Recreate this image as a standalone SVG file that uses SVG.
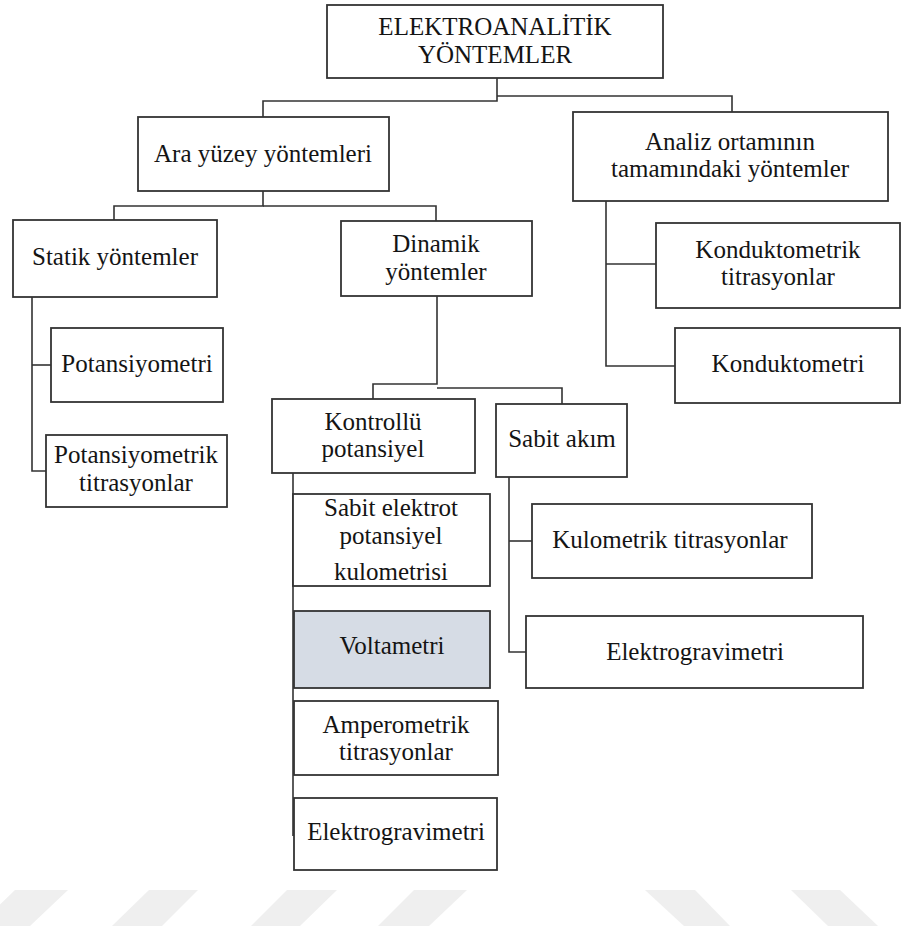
<svg xmlns="http://www.w3.org/2000/svg" width="915" height="936" viewBox="0 0 915 936">
<style>
.box{fill:#ffffff;stroke:#333333;stroke-width:1.8}
.hl{fill:#d6dce5}
.t{font-size:25px;fill:#141414;text-anchor:middle}
.c{fill:none;stroke:#333333;stroke-width:1.6}
.wm{fill:#efefef}
</style>
<rect width="915" height="936" fill="#ffffff"/>
<g id="watermark">
<polygon class="wm" points="15,890 68,890 30,926 -22,926"/>
<polygon class="wm" points="149,890 198,890 162,926 112,926"/>
<polygon class="wm" points="287,890 337,890 300,926 251,926"/>
<polygon class="wm" points="414,890 467,890 429,926 378,926"/>
<polygon class="wm" points="645,890 695,890 730,926 684,926"/>
<polygon class="wm" points="791,890 840,890 878,926 828,926"/>
</g>
<g id="connectors">
<path class="c" d="M497,78 V101 H263 V117"/>
<path class="c" d="M497,96 H732 V112"/>
<path class="c" d="M263,191 V206 H114 V220"/>
<path class="c" d="M263,206 H436 V221"/>
<path class="c" d="M32,297 V471 H46"/>
<path class="c" d="M32,365 H51"/>
<path class="c" d="M437,296 V384 H373 V399"/>
<path class="c" d="M437,388 H562 V404"/>
<path class="c" d="M293,473 V836"/>
<path class="c" d="M509,477 V652 H526"/>
<path class="c" d="M509,541 H532"/>
<path class="c" d="M606,201 V366 H675"/>
<path class="c" d="M606,264 H656"/>
</g>
<g id="nodes" font-family="Liberation Serif, Times New Roman, Tinos, serif">
<g id="n-root">
<rect class="box" x="327" y="5" width="336" height="73"/>
<text class="t" x="495" y="35">ELEKTROANALİTİK</text>
<text class="t" x="495" y="63">YÖNTEMLER</text>
</g>
<g id="n-arayuzey">
<rect class="box" x="138" y="117" width="251" height="74"/>
<text class="t" x="263" y="162">Ara yüzey yöntemleri</text>
</g>
<g id="n-analiz">
<rect class="box" x="573" y="112" width="315" height="89"/>
<text class="t" x="730" y="150">Analiz ortamının</text>
<text class="t" x="730" y="177">tamamındaki yöntemler</text>
</g>
<g id="n-statik">
<rect class="box" x="13" y="220" width="204" height="77"/>
<text class="t" x="115" y="265">Statik yöntemler</text>
</g>
<g id="n-dinamik">
<rect class="box" x="341" y="221" width="191" height="75"/>
<text class="t" x="436" y="252">Dinamik</text>
<text class="t" x="436" y="280">yöntemler</text>
</g>
<g id="n-kondtitr">
<rect class="box" x="656" y="223" width="244" height="85"/>
<text class="t" x="778" y="258">Konduktometrik</text>
<text class="t" x="778" y="285">titrasyonlar</text>
</g>
<g id="n-kond">
<rect class="box" x="675" y="328" width="225" height="75"/>
<text class="t" x="788" y="372">Konduktometri</text>
</g>
<g id="n-potans">
<rect class="box" x="51" y="328" width="172" height="74"/>
<text class="t" x="137" y="372">Potansiyometri</text>
</g>
<g id="n-potanstitr">
<rect class="box" x="46" y="435" width="181" height="72"/>
<text class="t" x="136" y="463">Potansiyometrik</text>
<text class="t" x="136" y="491">titrasyonlar</text>
</g>
<g id="n-kontrollu">
<rect class="box" x="272" y="399" width="203" height="74"/>
<text class="t" x="373" y="430">Kontrollü</text>
<text class="t" x="373" y="457">potansiyel</text>
</g>
<g id="n-sabitakim">
<rect class="box" x="496" y="404" width="131" height="73"/>
<text class="t" x="562" y="447">Sabit akım</text>
</g>
<g id="n-sabitelektrot">
<rect class="box" x="293" y="494" width="197" height="92"/>
<text class="t" x="391" y="516">Sabit elektrot</text>
<text class="t" x="391" y="544">potansiyel</text>
<text class="t" x="391" y="580">kulometrisi</text>
</g>
<g id="n-kulometrik">
<rect class="box" x="532" y="504" width="280" height="74"/>
<text class="t" x="670" y="548">Kulometrik titrasyonlar</text>
</g>
<g id="n-voltametri">
<rect class="box hl" x="294" y="611" width="196" height="77"/>
<text class="t" x="392" y="654">Voltametri</text>
</g>
<g id="n-elektrograv2">
<rect class="box" x="526" y="616" width="337" height="72"/>
<text class="t" x="695" y="660">Elektrogravimetri</text>
</g>
<g id="n-amperometrik">
<rect class="box" x="294" y="701" width="204" height="74"/>
<text class="t" x="396" y="733">Amperometrik</text>
<text class="t" x="396" y="760">titrasyonlar</text>
</g>
<g id="n-elektrograv1">
<rect class="box" x="294" y="798" width="203" height="72"/>
<text class="t" x="396" y="840">Elektrogravimetri</text>
</g>
</g>
</svg>
